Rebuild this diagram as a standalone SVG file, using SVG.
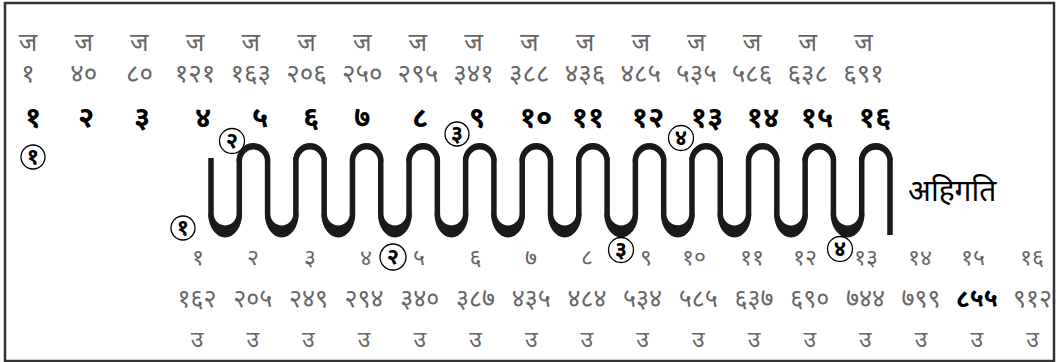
<svg xmlns="http://www.w3.org/2000/svg" width="1058" height="362" viewBox="0 0 1058 362">
<style>
.g{font-family:"Noto Sans Devanagari","Noto Sans","Lohit Devanagari","FreeSans",sans-serif;fill:#666;text-anchor:middle}
.r1{font-size:25px}
.r2{font-size:26px}
.r3{font-family:"Noto Sans Devanagari","Noto Sans","Lohit Devanagari","FreeSans",sans-serif;font-size:29px;font-weight:bold;fill:#000;text-anchor:middle}
.r4{font-size:23px}
.r5{font-size:25px}
.r6{font-size:23px}
.c circle{fill:#fff;stroke:#000;stroke-width:1.3}
.c text{font-family:"Noto Sans Devanagari","Noto Sans","Lohit Devanagari","FreeSans",sans-serif;font-size:22px;font-weight:bold;fill:#000;text-anchor:middle}
.lbl{font-family:"Noto Sans Devanagari","Noto Sans","Lohit Devanagari","FreeSans",sans-serif;font-size:30px;fill:#000}
</style>
<rect x="0" y="0" width="1058" height="362" fill="#fff"/>
<rect x="5" y="3" width="1049" height="358" fill="none" stroke="#333" stroke-width="2.5"/>

<g id="row-ja" class="g r1">
<text x="28" y="51">ज</text><text x="83.7" y="51">ज</text><text x="139.4" y="51">ज</text><text x="195.1" y="51">ज</text>
<text x="250.8" y="51">ज</text><text x="306.5" y="51">ज</text><text x="362.2" y="51">ज</text><text x="417.9" y="51">ज</text>
<text x="473.6" y="51">ज</text><text x="529.3" y="51">ज</text><text x="585" y="51">ज</text><text x="640.7" y="51">ज</text>
<text x="696.4" y="51">ज</text><text x="752.1" y="51">ज</text><text x="807.8" y="51">ज</text><text x="863.5" y="51">ज</text>
</g>

<g id="row-start" class="g r2">
<text x="28" y="82">१</text><text x="83.7" y="82">४०</text><text x="139.4" y="82">८०</text><text x="195.1" y="82">१२१</text>
<text x="250.8" y="82">१६३</text><text x="306.5" y="82">२०६</text><text x="362.2" y="82">२५०</text><text x="417.9" y="82">२९५</text>
<text x="473.6" y="82">३४१</text><text x="529.3" y="82">३८८</text><text x="585" y="82">४३६</text><text x="640.7" y="82">४८५</text>
<text x="696.4" y="82">५३५</text><text x="752.1" y="82">५८६</text><text x="807.8" y="82">६३८</text><text x="863.5" y="82">६९१</text>
</g>

<g id="row-count" class="r3">
<text x="33" y="127">१</text><text x="86" y="127">२</text><text x="142" y="127">३</text><text x="203" y="127">४</text>
<text x="260" y="127">५</text><text x="311" y="127">६</text><text x="362" y="127">७</text><text x="420" y="127">८</text>
<text x="477" y="127">९</text><text x="536" y="127">१०</text><text x="588" y="127">११</text><text x="648" y="127">१२</text>
<text x="707" y="127">१३</text><text x="763" y="127">१४</text><text x="817" y="127">१५</text><text x="875" y="127">१६</text>
</g>

<g id="serpentine">
<path d="M211 158 V214 a14.146 14.146 0 0 0 28.292 0 v-53 a14.146 14.146 0 0 1 28.292 0 v53 a14.146 14.146 0 0 0 28.292 0 v-53 a14.146 14.146 0 0 1 28.292 0 v53 a14.146 14.146 0 0 0 28.292 0 v-53 a14.146 14.146 0 0 1 28.292 0 v53 a14.146 14.146 0 0 0 28.292 0 v-53 a14.146 14.146 0 0 1 28.292 0 v53 a14.146 14.146 0 0 0 28.292 0 v-53 a14.146 14.146 0 0 1 28.292 0 v53 a14.146 14.146 0 0 0 28.292 0 v-53 a14.146 14.146 0 0 1 28.292 0 v53 a14.146 14.146 0 0 0 28.292 0 v-53 a14.146 14.146 0 0 1 28.292 0 v53 a14.146 14.146 0 0 0 28.292 0 v-53 a14.146 14.146 0 0 1 28.292 0 v53 a14.146 14.146 0 0 0 28.292 0 v-53 a14.146 14.146 0 0 1 28.292 0 v53 a14.146 14.146 0 0 0 28.292 0 v-53 a14.146 14.146 0 0 1 28.292 0 v53 a14.146 14.146 0 0 0 28.292 0 v-53 a14.146 14.146 0 0 1 28.292 0 v53 a14.146 14.146 0 0 0 28.292 0 v-53 a14.146 14.146 0 0 1 28.292 0 V235" fill="none" stroke="#1a1a1a" stroke-width="5.5"/>
<g id="bottom-thick" fill="#1a1a1a">
<path id="cres" d="M208.25 214 a16.896 23.5 0 0 0 33.792 0 h-2.75 a14.146 14.146 0 0 1 -28.292 0 z"/>
<use href="#cres" x="56.583"/><use href="#cres" x="113.167"/><use href="#cres" x="169.75"/><use href="#cres" x="226.333"/><use href="#cres" x="282.917"/>
<use href="#cres" x="339.5"/><use href="#cres" x="396.083"/><use href="#cres" x="452.667"/><use href="#cres" x="509.25"/><use href="#cres" x="565.833"/><use href="#cres" x="622.417"/>
</g>
<g id="top-thick" fill="#1a1a1a">
<path id="cap" d="M236.54 161 a16.896 18 0 0 1 33.792 0 h-2.75 a14.146 14.146 0 0 0 -28.292 0 z"/>
<use href="#cap" x="56.583"/><use href="#cap" x="113.167"/><use href="#cap" x="169.75"/><use href="#cap" x="226.333"/><use href="#cap" x="282.917"/>
<use href="#cap" x="339.5"/><use href="#cap" x="396.083"/><use href="#cap" x="452.667"/><use href="#cap" x="509.25"/><use href="#cap" x="565.833"/><use href="#cap" x="622.417"/>
</g>
</g>

<text id="label" class="lbl" x="908" y="201">अहिगति</text>

<g id="row-bottom-count" class="g r4">
<text x="198" y="265">१</text><text x="253" y="265">२</text><text x="310" y="265">३</text><text x="366" y="265">४</text>
<text x="419" y="265">५</text><text x="475.5" y="265">६</text><text x="531" y="265">७</text><text x="587" y="265">८</text>
<text x="646" y="265">९</text><text x="694" y="265">१०</text><text x="752" y="265">११</text><text x="805" y="265">१२</text>
<text x="866" y="265">१३</text><text x="920" y="265">१४</text><text x="973" y="265">१५</text><text x="1032" y="265">१६</text>
</g>

<g id="row-end" class="g r5">
<text x="197" y="307">१६२</text><text x="252.7" y="307">२०५</text><text x="308.4" y="307">२४९</text><text x="364.1" y="307">२९४</text>
<text x="419.8" y="307">३४०</text><text x="475.5" y="307">३८७</text><text x="531.2" y="307">४३५</text><text x="586.9" y="307">४८४</text>
<text x="642.6" y="307">५३४</text><text x="698.3" y="307">५८५</text><text x="754" y="307">६३७</text><text x="809.7" y="307">६९०</text>
<text x="865.4" y="307">७४४</text><text x="921.1" y="307">७९९</text><text x="976.8" y="307" fill="#000" font-weight="bold">८५५</text><text x="1032.5" y="307">९१२</text>
</g>

<g id="row-u" class="g r6">
<text x="197" y="347">उ</text><text x="252.7" y="347">उ</text><text x="308.4" y="347">उ</text><text x="364.1" y="347">उ</text>
<text x="419.8" y="347">उ</text><text x="475.5" y="347">उ</text><text x="531.2" y="347">उ</text><text x="586.9" y="347">उ</text>
<text x="642.6" y="347">उ</text><text x="698.3" y="347">उ</text><text x="754" y="347">उ</text><text x="809.7" y="347">उ</text>
<text x="865.4" y="347">उ</text><text x="921.1" y="347">उ</text><text x="976.8" y="347">उ</text><text x="1032.5" y="347">उ</text>
</g>

<g id="mark-1a" class="c"><circle cx="33" cy="157" r="12"/><text x="33" y="164">१</text></g>
<g id="mark-2a" class="c"><circle cx="232" cy="141" r="12.5"/><text x="232" y="148">२</text></g>
<g id="mark-3a" class="c"><circle cx="457" cy="134" r="12"/><text x="457" y="141">३</text></g>
<g id="mark-4a" class="c"><circle cx="681" cy="138" r="12.5"/><text x="681" y="145">४</text></g>
<g id="mark-1b" class="c"><circle cx="183" cy="228" r="12"/><text x="183" y="235">१</text></g>
<g id="mark-2b" class="c"><circle cx="393" cy="257" r="13"/><text x="393" y="264">२</text></g>
<g id="mark-3b" class="c"><circle cx="621" cy="250" r="12.5"/><text x="621" y="257">३</text></g>
<g id="mark-4b" class="c"><circle cx="840" cy="249" r="12.5"/><text x="840" y="256">४</text></g>
</svg>
